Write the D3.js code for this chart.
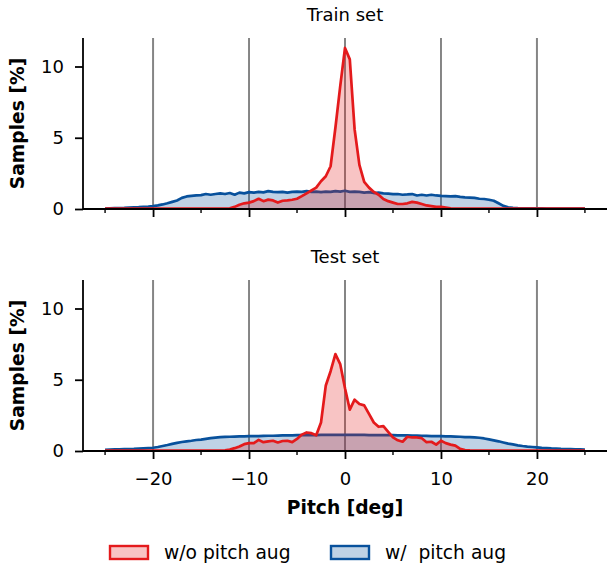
<!DOCTYPE html>
<html>
<head>
<meta charset="utf-8">
<script src="https://cdn.jsdelivr.net/npm/d3@7"></script>
<style>
  body { margin: 0; background: #fff; }
  text { font-family: "DejaVu Sans", sans-serif; }
</style>
</head>
<body>
<div id="chart"></div>
<script>
// pitch bins (deg), 0.5 deg steps from -25 to 25
const pitch = d3.range(-25, 25.01, 0.5);

// Train set, samples [%]
const trainNoAug = [
  0.02, 0.02, 0.02, 0.02, 0.02, 0.02, 0.02, 0.02, 0.02, 0.02,
  0.02, 0.02, 0.02, 0.02, 0.02, 0.02, 0.02, 0.02, 0.02, 0.02,
  0.02, 0.02, 0.02, 0.02, 0.02, 0.03, 0.05, 0.15, 0.3, 0.4,
  0.45, 0.55, 0.72, 0.55, 0.66, 0.6, 0.45, 0.58, 0.6, 0.65,
  0.72, 0.9, 1.1, 1.3, 1.5, 1.95, 2.3, 3.0, 5.7, 8.6,
  11.3, 10.5, 5.6, 3.1, 1.9, 1.5, 1.2, 1.0, 0.7, 0.55,
  0.45, 0.35, 0.35, 0.4, 0.5, 0.45, 0.35, 0.25, 0.2, 0.15,
  0.15, 0.1, 0.05, 0.03, 0.02, 0.02, 0.02, 0.02, 0.02, 0.02,
  0.02, 0.02, 0.02, 0.02, 0.02, 0.02, 0.02, 0.02, 0.02, 0.02,
  0.02, 0.02, 0.02, 0.02, 0.02, 0.02, 0.02, 0.02, 0.02, 0.02,
  0.02
];
const trainAug = [
  0.03, 0.05, 0.06, 0.07, 0.08, 0.1, 0.12, 0.13, 0.15, 0.17,
  0.2, 0.25, 0.32, 0.4, 0.5, 0.6, 0.78, 0.88, 0.92, 0.95,
  0.97, 1.05, 1.0, 1.05, 1.1, 1.05, 1.12, 1.0, 1.15, 1.1,
  1.18, 1.15, 1.2, 1.17, 1.25, 1.2, 1.18, 1.2, 1.15, 1.2,
  1.22, 1.2, 1.25, 1.2, 1.22, 1.18, 1.22, 1.2, 1.25, 1.22,
  1.28, 1.2, 1.22, 1.2, 1.15, 1.18, 1.12, 1.15, 1.1, 1.08,
  1.05, 1.05, 1.0, 1.02, 1.05, 0.95, 1.0, 0.95, 1.0, 0.95,
  0.92, 0.9, 0.88, 0.9, 0.85, 0.82, 0.8, 0.78, 0.72, 0.7,
  0.65, 0.58, 0.4, 0.22, 0.12, 0.08, 0.06, 0.05, 0.05, 0.05,
  0.04, 0.04, 0.03, 0.03, 0.03, 0.02, 0.02, 0.02, 0.02, 0.02,
  0.02
];

// Test set, samples [%]
const testNoAug = [
  0.02, 0.02, 0.02, 0.02, 0.02, 0.02, 0.02, 0.02, 0.02, 0.02,
  0.02, 0.02, 0.02, 0.02, 0.02, 0.02, 0.02, 0.02, 0.02, 0.02,
  0.02, 0.02, 0.02, 0.02, 0.02, 0.05, 0.1, 0.2, 0.32, 0.48,
  0.55, 0.55, 0.78, 0.62, 0.68, 0.72, 0.6, 0.7, 0.72, 0.62,
  0.85, 1.15, 1.3, 1.25, 1.1, 2.0, 4.6, 5.6, 6.8, 6.1,
  4.4, 2.9, 3.6, 3.3, 3.2, 2.6, 2.0, 1.7, 1.75, 1.35,
  0.95, 0.75, 0.65, 1.0, 0.95, 0.95, 0.9, 0.62, 0.65, 0.45,
  0.72, 0.55, 0.45, 0.38, 0.15, 0.07, 0.04, 0.03, 0.02, 0.02,
  0.02, 0.02, 0.02, 0.02, 0.02, 0.02, 0.02, 0.02, 0.02, 0.02,
  0.02, 0.02, 0.02, 0.02, 0.02, 0.02, 0.02, 0.02, 0.02, 0.02,
  0.02
];
const testAug = [
  0.08, 0.1, 0.11, 0.12, 0.13, 0.14, 0.15, 0.17, 0.19, 0.21,
  0.23, 0.28, 0.35, 0.42, 0.5, 0.57, 0.63, 0.68, 0.72, 0.77,
  0.8, 0.85, 0.9, 0.94, 0.97, 0.99, 1.0, 1.01, 1.02, 1.03,
  1.04, 1.05, 1.05, 1.06, 1.07, 1.07, 1.08, 1.09, 1.1, 1.1,
  1.11, 1.11, 1.12, 1.12, 1.12, 1.13, 1.13, 1.13, 1.13, 1.13,
  1.13, 1.13, 1.13, 1.13, 1.13, 1.12, 1.12, 1.12, 1.12, 1.11,
  1.11, 1.1, 1.1, 1.09, 1.08, 1.08, 1.07, 1.06, 1.05, 1.05,
  1.04, 1.03, 1.02, 1.01, 1.0, 0.98, 0.97, 0.95, 0.93, 0.88,
  0.82, 0.75, 0.68, 0.6, 0.52, 0.46, 0.4, 0.35, 0.31, 0.28,
  0.25, 0.22, 0.2, 0.18, 0.17, 0.15, 0.14, 0.13, 0.12, 0.11,
  0.1
];

const panels = [
  { title: "Train set", noAug: trainNoAug, aug: trainAug, top: 38 },
  { title: "Test set", noAug: testNoAug, aug: testAug, top: 280 }
];

const majorTicks = [-20, -10, 0, 10, 20];
const minorTicks = [-25, -15, -5, 5, 15, 25];
const yTicks = [0, 5, 10];

const width = 608, height = 563;
const left = 83, right = 607, panelH = 171;
const fs = 18;

const red = "#e41a1c", blue = "#08519c";

const svg = d3.select("#chart").append("svg")
    .attr("width", width)
    .attr("height", height);

const x = d3.scaleLinear().domain([-27.3, 27.3]).range([left, right]);

panels.forEach((p, pi) => {
    const y = d3.scaleLinear().domain([0, 12]).range([p.top + panelH, p.top]);
    const g = svg.append("g");

    // vertical grid lines
    g.selectAll(".grid").data(majorTicks).join("line")
        .attr("x1", d => x(d)).attr("x2", d => x(d))
        .attr("y1", y(12)).attr("y2", y(0))
        .attr("stroke", "#858585")
        .attr("stroke-width", 2);

    const area = d3.area()
        .x((d, i) => x(pitch[i]))
        .y0(y(0))
        .y1(d => y(d));
    const line = d3.line()
        .x((d, i) => x(pitch[i]))
        .y(d => y(d));

    // w/ aug first, then w/o aug on top
    [[p.aug, blue], [p.noAug, red]].forEach(([vals, col]) => {
        g.append("path").datum(vals)
            .attr("d", area)
            .attr("fill", col)
            .attr("fill-opacity", 0.26);
        g.append("path").datum(vals)
            .attr("d", line)
            .attr("fill", "none")
            .attr("stroke", col)
            .attr("stroke-width", 2.7)
            .attr("stroke-linejoin", "round");
    });

    // x axis
    const xAxis = d3.axisBottom(x).tickValues(majorTicks)
        .tickSize(8).tickPadding(13)
        .tickFormat(pi === 1 ? (d => d < 0 ? "\u2212" + Math.abs(d) : d) : "");
    const xa = g.append("g")
        .attr("transform", `translate(0,${y(0)})`)
        .call(xAxis);
    xa.select(".domain").attr("stroke-width", 1.8).attr("d", `M${left},0H${right}`);
    xa.selectAll(".tick line").attr("stroke-width", 1.8);
    xa.selectAll("text").attr("font-size", fs).attr("fill", "#000");

    g.append("g")
        .attr("transform", `translate(0,${y(0)})`)
        .selectAll("line").data(minorTicks).join("line")
        .attr("x1", d => x(d)).attr("x2", d => x(d))
        .attr("y1", 0).attr("y2", 4)
        .attr("stroke", "#000").attr("stroke-width", 1.4);

    // y axis
    const ya = g.append("g")
        .attr("transform", `translate(${left},0)`)
        .call(d3.axisLeft(y).tickValues(yTicks).tickSize(8).tickPadding(11));
    ya.select(".domain").attr("stroke-width", 1.8).attr("d", `M0,${y(12)}V${y(0)}`);
    ya.selectAll(".tick line").attr("stroke-width", 1.8);
    ya.selectAll("text").attr("font-size", fs).attr("fill", "#000");

    // titles
    g.append("text")
        .attr("x", x(0)).attr("y", p.top - 17)
        .attr("text-anchor", "middle")
        .attr("font-size", fs)
        .text(p.title);

    g.append("text")
        .attr("transform", `translate(24,${p.top + panelH / 2}) rotate(-90)`)
        .attr("text-anchor", "middle")
        .attr("font-size", 18.7)
        .attr("font-weight", "bold")
        .text("Samples [%]");
});

svg.append("text")
    .attr("x", x(0)).attr("y", 514)
    .attr("text-anchor", "middle")
    .attr("font-size", 18.7)
    .attr("font-weight", "bold")
    .text("Pitch [deg]");

// legend
const legend = [
    { label: "w/o pitch aug", color: red, x: 110 },
    { label: "w/  pitch aug", color: blue, x: 331 }
];
legend.forEach(l => {
    svg.append("rect")
        .attr("x", l.x).attr("y", 546)
        .attr("width", 38).attr("height", 13)
        .attr("fill", l.color).attr("fill-opacity", 0.26)
        .attr("stroke", l.color).attr("stroke-width", 2.4);
    svg.append("text")
        .attr("x", l.x + 54).attr("y", 559)
        .attr("font-size", 18.7)
        .style("white-space", "pre")
        .text(l.label);
});
</script>
</body>
</html>
